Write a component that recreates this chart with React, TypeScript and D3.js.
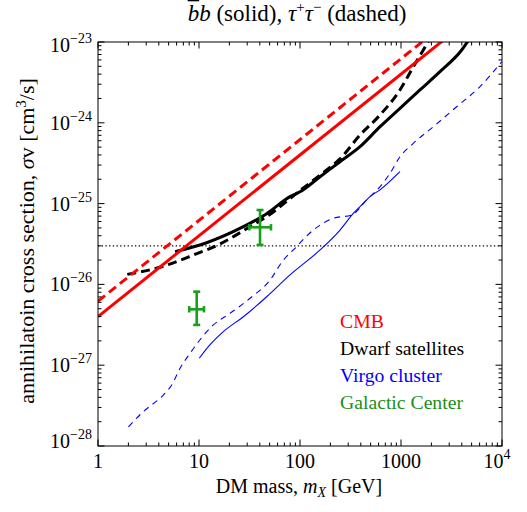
import React from "react";
import * as d3 from "d3";

// ---- data ----
const cmbMass = [1, 10000];
const cmbBB = [4e-27, 4e-23];
const cmbTau = [6.2e-27, 6.2e-23];

const dwarfBBMass = [5.8, 11.9, 27.5, 46.8, 79.6, 100, 158, 249, 393, 620, 977, 1542, 2432, 3990, 5000];
const dwarfBB = [2.54e-26, 3.28e-26, 5.18e-26, 7.5e-26, 1.22e-25, 1.4e-25, 2.15e-25, 3.3e-25, 5.06e-25, 8.95e-25, 1.51e-24, 2.55e-24, 4.29e-24, 7.96e-24, 1.2e-23];

const dwarfTauMass = [1.95, 4.11, 8.79, 16.1, 32, 46.8, 100, 158, 250, 393, 620, 977, 1324, 1663, 2000];
const dwarfTau = [1.33e-26, 1.63e-26, 2.31e-26, 3.16e-26, 5.18e-26, 6.9e-26, 1.45e-25, 2.25e-25, 3.6e-25, 7.06e-25, 1.25e-24, 2.55e-24, 4.94e-24, 7.96e-24, 1.2e-23];

const virgoBBMass = [10.07, 12.8, 17.4, 27.5, 46.8, 79.6, 158, 249, 337, 424, 493, 620, 977];
const virgoBB = [1.22e-27, 1.78e-27, 2.6e-27, 3.98e-27, 7.04e-27, 1.31e-26, 2.67e-26, 4.71e-26, 7.58e-26, 1.01e-25, 1.22e-25, 1.48e-25, 2.48e-25];

const virgoTauMass = [2.0, 2.81, 4.43, 5.37, 6.49, 8.15, 10.2, 13.9, 20.3, 32, 50.5, 68.4, 85.9, 135.5, 214, 325, 457, 620, 778, 977, 1324, 2089, 3556, 6053, 9930];
const virgoTau = [1.73e-28, 2.66e-28, 4.27e-28, 5.69e-28, 9.16e-28, 1.4e-27, 2.05e-27, 3.15e-27, 4.39e-27, 6.73e-27, 1.13e-26, 2.0e-26, 2.67e-26, 4.71e-26, 6.58e-26, 7.23e-26, 1.11e-25, 1.62e-25, 2.37e-25, 3.8e-25, 5.57e-25, 8.95e-25, 1.58e-24, 2.8e-24, 5.7e-24];

const gcMass = [9.49, 40.2];
const gcMassLo = [8.0, 31.5];
const gcMassHi = [11.2, 51.6];
const gcSv = [4.92e-27, 5.09e-26];
const gcSvLo = [3.15e-27, 3.08e-26];
const gcSvHi = [8.13e-27, 8.33e-26];

const thermalSv = 3e-26;

const xMajor = [1, 10, 100, 1000, 10000];
const xMajorLabels = ["1", "10", "100", "1000", "10^4"];
const yMajorExp = [-23, -24, -25, -26, -27, -28];

const legendLabels = ["CMB", "Dwarf satellites", "Virgo cluster", "Galactic Center"];
const legendColors = ["#ff0000", "#000000", "#0000ff", "#1a8f1a"];

const FONT = "'Liberation Serif', 'Times New Roman', serif";

export default function App() {
  const L = 98, R = 502, T = 42, B = 446;
  const x = d3.scaleLog().domain([1, 1e4]).range([L, R]);
  const y = d3.scaleLog().domain([1e-28, 1e-23]).range([B, T]);

  const mkLine = (ms: number[], vs: number[]) =>
    d3.line<number>().x((_, i) => x(ms[i])).y((_, i) => y(vs[i])).curve(d3.curveMonotoneX)(ms) || "";

  const minor: number[] = [];
  for (let e = 0; e < 4; e++) for (let k = 2; k <= 9; k++) minor.push(k * Math.pow(10, e));
  const yMinor: number[] = [];
  for (let e = -28; e < -23; e++) for (let k = 2; k <= 9; k++) yMinor.push(k * Math.pow(10, e));

  const green = "#19a019";

  return (
    <svg width={527} height={512} style={{ position: "absolute", left: 0, top: 0, background: "#fff" }} fontFamily={FONT}>
      <defs>
        <clipPath id="plotclip">
          <rect x={L} y={T} width={R - L} height={B - T} />
        </clipPath>
      </defs>
      <rect x={0} y={0} width={527} height={512} fill="#fff" />

      {/* title */}
      <text x={297} y={21} textAnchor="middle" fontSize={23} fill="#000">
        <tspan fontStyle="italic" style={{ textDecoration: "overline" }}>b</tspan>
        <tspan fontStyle="italic">b</tspan>
        <tspan>{" (solid), "}</tspan>
        <tspan fontStyle="italic">τ</tspan>
        <tspan dy={-9} fontSize={15}>+</tspan>
        <tspan dy={9} fontStyle="italic">τ</tspan>
        <tspan dy={-9} fontSize={15}>−</tspan>
        <tspan dy={9}>{" (dashed)"}</tspan>
      </text>

      {/* lines */}
      <g clipPath="url(#plotclip)" fill="none">
        <line x1={L} x2={R} y1={y(thermalSv)} y2={y(thermalSv)} stroke="#000" strokeWidth={1.2} strokeDasharray="1.3,2.4" />
        <path d={mkLine(virgoTauMass, virgoTau)} stroke="#0000ff" strokeWidth={1.1} strokeDasharray="6,5" />
        <path d={mkLine(virgoBBMass, virgoBB)} stroke="#0000ff" strokeWidth={1.1} />
        <path d={mkLine(dwarfTauMass, dwarfTau)} stroke="#000" strokeWidth={3} strokeDasharray="9,5" />
        <path d={mkLine(dwarfBBMass, dwarfBB)} stroke="#000" strokeWidth={3} />
        <path d={mkLine(cmbMass, cmbTau)} stroke="#ff0000" strokeWidth={3} strokeDasharray="9,5" />
        <path d={mkLine(cmbMass, cmbBB)} stroke="#ff0000" strokeWidth={3} />
      </g>

      {/* galactic center points */}
      <g stroke={green} strokeWidth={2.6} fill="none">
        {gcMass.map((m, i) => {
          const cx = x(m), cy = y(gcSv[i]);
          const y1 = y(gcSvHi[i]), y2 = y(gcSvLo[i]);
          const x1 = x(gcMassLo[i]), x2 = x(gcMassHi[i]);
          return (
            <g key={i}>
              <line x1={cx} x2={cx} y1={y1} y2={y2} />
              <line x1={x1} x2={x2} y1={cy} y2={cy} />
              <line x1={cx - 3.5} x2={cx + 3.5} y1={y1} y2={y1} />
              <line x1={cx - 3.5} x2={cx + 3.5} y1={y2} y2={y2} />
              <line x1={x1} x2={x1} y1={cy - 3.2} y2={cy + 3.2} />
              <line x1={x2} x2={x2} y1={cy - 3.2} y2={cy + 3.2} />
            </g>
          );
        })}
      </g>

      {/* frame and ticks */}
      <g stroke="#000" strokeWidth={1} fill="none">
        <rect x={L} y={T} width={R - L} height={B - T} />
        {xMajor.map((v) => (
          <g key={"xM" + v}>
            <line x1={x(v)} x2={x(v)} y1={B} y2={B - 6.5} />
            <line x1={x(v)} x2={x(v)} y1={T} y2={T + 6.5} />
          </g>
        ))}
        {minor.map((v) => (
          <g key={"xm" + v}>
            <line x1={x(v)} x2={x(v)} y1={B} y2={B - 3.5} />
            <line x1={x(v)} x2={x(v)} y1={T} y2={T + 3.5} />
          </g>
        ))}
        {yMajorExp.map((e) => (
          <g key={"yM" + e}>
            <line x1={L} x2={L + 6.5} y1={y(Math.pow(10, e))} y2={y(Math.pow(10, e))} />
            <line x1={R} x2={R - 6.5} y1={y(Math.pow(10, e))} y2={y(Math.pow(10, e))} />
          </g>
        ))}
        {yMinor.map((v, i) => (
          <g key={"ym" + i}>
            <line x1={L} x2={L + 3.5} y1={y(v)} y2={y(v)} />
            <line x1={R} x2={R - 3.5} y1={y(v)} y2={y(v)} />
          </g>
        ))}
      </g>

      {/* x tick labels */}
      {xMajor.map((v, i) => {
        const lab = xMajorLabels[i];
        if (lab.includes("^")) {
          const [b, e] = lab.split("^");
          return (
            <text key={"xl" + v} x={x(v) - 5} y={468} textAnchor="middle" fontSize={20}>
              {b}
              <tspan dy={-9} fontSize={14}>{e}</tspan>
            </text>
          );
        }
        return (
          <text key={"xl" + v} x={x(v)} y={468} textAnchor="middle" fontSize={20}>
            {lab}
          </text>
        );
      })}

      {/* y tick labels */}
      {yMajorExp.map((e) => {
        const yy = Math.max(51.5, Math.min(448, y(Math.pow(10, e)) + 7));
        return (
          <text key={"yl" + e} x={92} y={yy} textAnchor="end" fontSize={20}>
            10
            <tspan dy={-9} fontSize={14}>{"−" + Math.abs(e)}</tspan>
          </text>
        );
      })}

      {/* axis labels */}
      <text x={299} y={493} textAnchor="middle" fontSize={20}>
        DM mass, <tspan fontStyle="italic">m</tspan>
        <tspan fontStyle="italic" fontSize={14} dy={4}>X</tspan>
        <tspan dy={-4}>{" [GeV]"}</tspan>
      </text>
      <text transform="translate(34,241) rotate(-90)" textAnchor="middle" fontSize={22}>
        {"annihilatoin cross section, "}
        <tspan fontStyle="italic">σ</tspan>
        <tspan>{"v [cm"}</tspan>
        <tspan dy={-8} fontSize={15}>3</tspan>
        <tspan dy={8}>{"/s]"}</tspan>
      </text>

      {/* legend */}
      {legendLabels.map((lab, i) => (
        <text key={lab} x={340} y={328 + i * 27} fontSize={19.7} fill={legendColors[i]}>
          {lab}
        </text>
      ))}
    </svg>
  );
}
